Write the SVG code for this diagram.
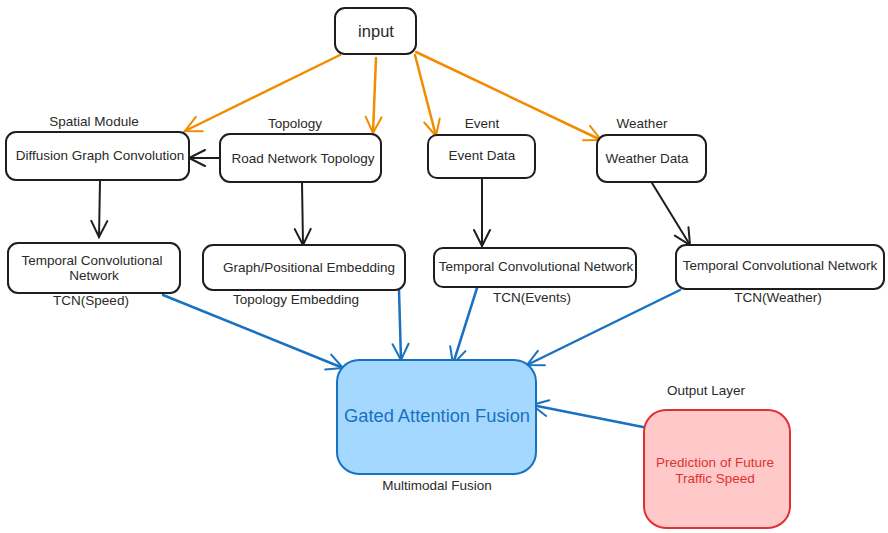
<svg xmlns="http://www.w3.org/2000/svg" width="888" height="533" viewBox="0 0 888 533">
<defs>
<style>
.box{fill:#fff;stroke:#1e1e1e;stroke-width:2}
.t{font-family:"Liberation Sans",Arial,sans-serif;font-size:13.5px;fill:#2a2a2a;text-anchor:middle}
.lbl{font-family:"Liberation Sans",Arial,sans-serif;font-size:13.5px;fill:#2a2a2a;text-anchor:middle}
.or{stroke:#f08c00;stroke-width:2.5;fill:none;stroke-linecap:round}
.bk{stroke:#1e1e1e;stroke-width:2;fill:none;stroke-linecap:round}
.bl{stroke:#1971c2;stroke-width:2.5;fill:none;stroke-linecap:round}
</style>
<marker id="mo" viewBox="-18 -10 22 20" markerWidth="22" markerHeight="20" refX="0" refY="0" orient="auto" markerUnits="userSpaceOnUse"><path d="M-16,-8 L0,0 L-16,8" fill="none" stroke="#f08c00" stroke-width="2" stroke-linecap="round"/></marker>
<marker id="mk" viewBox="-18 -10 22 20" markerWidth="22" markerHeight="20" refX="0" refY="0" orient="auto" markerUnits="userSpaceOnUse"><path d="M-16,-8 L0,0 L-16,8" fill="none" stroke="#1e1e1e" stroke-width="2" stroke-linecap="round"/></marker>
<marker id="mb" viewBox="-18 -10 22 20" markerWidth="22" markerHeight="20" refX="0" refY="0" orient="auto" markerUnits="userSpaceOnUse"><path d="M-16,-8 L0,0 L-16,8" fill="none" stroke="#1971c2" stroke-width="2" stroke-linecap="round"/></marker>
</defs>
<rect width="888" height="533" fill="#fff"/>
<g id="connectors">
<path class="or" d="M340,55 L185,131" marker-end="url(#mo)"/>
<path class="or" d="M376,58 L373,133" marker-end="url(#mo)"/>
<path class="or" d="M415,55 L436,136" marker-end="url(#mo)"/>
<path class="or" d="M416,52 L601,140" marker-end="url(#mo)"/>
<path class="bk" d="M220,158 L189,158" marker-end="url(#mk)"/>
<path class="bk" d="M100,181 L99,237" marker-end="url(#mk)"/>
<path class="bk" d="M302,182 L303,245" marker-end="url(#mk)"/>
<path class="bk" d="M482,178 L482,246" marker-end="url(#mk)"/>
<path class="bk" d="M652,183 L690,245" marker-end="url(#mk)"/>
<path class="bl" d="M163,295 L343,368" marker-end="url(#mb)"/>
<path class="bl" d="M399,290 L401,360" marker-end="url(#mb)"/>
<path class="bl" d="M477,288 L453,364" marker-end="url(#mb)"/>
<path class="bl" d="M680,290 L527,365" marker-end="url(#mb)"/>
<path class="bl" d="M648,428 L532,405" marker-end="url(#mb)"/>
</g>
<g id="input"><rect class="box" x="335" y="8" width="81" height="46" rx="10"/><text class="t" x="376" y="37" style="font-size:16.5px">input</text></g>
<g id="diffusion"><text class="lbl" x="94" y="126">Spatial Module</text><rect class="box" x="6" y="132" width="183" height="48" rx="10"/><text class="t" x="100" y="160">Diffusion Graph Convolution</text></g>
<g id="road"><text class="lbl" x="295" y="128">Topology</text><rect class="box" x="220" y="134" width="161" height="48" rx="10"/><text class="t" x="303" y="163">Road Network Topology</text></g>
<g id="event"><text class="lbl" x="482" y="128">Event</text><rect class="box" x="428" y="135" width="107" height="43" rx="9"/><text class="t" x="482" y="160">Event Data</text></g>
<g id="weather"><text class="lbl" x="642" y="128">Weather</text><rect class="box" x="597" y="135" width="109" height="47" rx="10"/><text class="t" x="647" y="163">Weather Data</text></g>
<g id="tcnspeed"><rect class="box" x="8" y="243" width="172" height="50" rx="10"/><text class="t" x="92" y="265">Temporal Convolutional</text><text class="t" x="94" y="280">Network</text><text class="lbl" x="91" y="305">TCN(Speed)</text></g>
<g id="embed"><rect class="box" x="203" y="245" width="202" height="45" rx="10"/><text class="t" x="309" y="272">Graph/Positional Embedding</text><text class="lbl" x="296" y="304">Topology Embedding</text></g>
<g id="tcnevents"><rect class="box" x="434" y="248" width="202" height="39" rx="9"/><text class="t" x="536" y="271">Temporal Convolutional Network</text><text class="lbl" x="532" y="302">TCN(Events)</text></g>
<g id="tcnweather"><rect class="box" x="676" y="245" width="208" height="44" rx="10"/><text class="t" x="780" y="270">Temporal Convolutional Network</text><text class="lbl" x="778" y="302">TCN(Weather)</text></g>
<g id="fusion"><rect x="337" y="360" width="199" height="114" rx="22" fill="#a5d8ff" stroke="#1971c2" stroke-width="2"/><text class="t" x="437" y="422" style="font-size:18.3px;fill:#1971c2">Gated Attention Fusion</text><text class="lbl" x="437" y="490">Multimodal Fusion</text></g>
<g id="output"><text class="lbl" x="706" y="395">Output Layer</text><rect x="644" y="410" width="146" height="118" rx="22" fill="#ffc9c9" stroke="#e03131" stroke-width="2"/><text class="t" x="715" y="467" style="fill:#e03131">Prediction of Future</text><text class="t" x="715" y="483" style="fill:#e03131">Traffic Speed</text></g>
</svg>
